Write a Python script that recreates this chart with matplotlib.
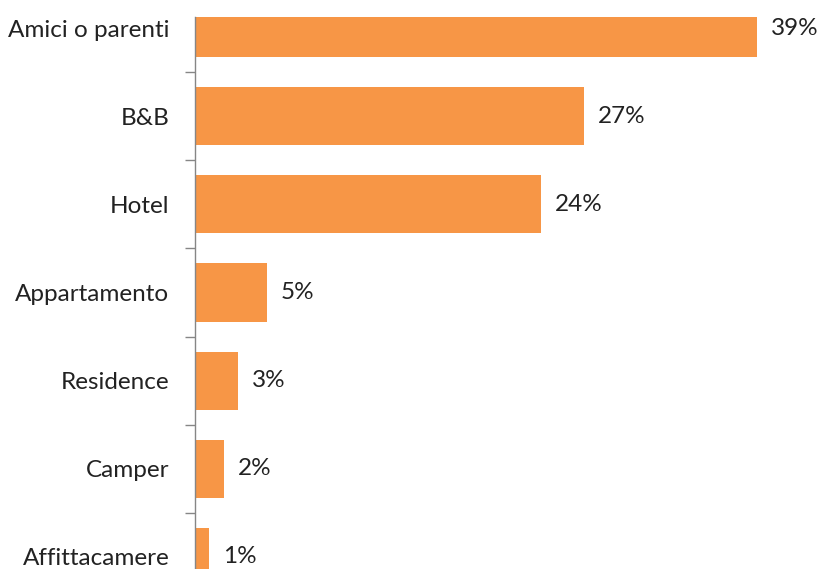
import matplotlib
matplotlib.use("Agg")
import matplotlib.pyplot as plt

categories = ["Amici o parenti", "B&B", "Hotel", "Appartamento", "Residence", "Camper", "Affittacamere"]
values = [39, 27, 24, 5, 3, 2, 1]
value_labels = ["39%", "27%", "24%", "5%", "3%", "2%", "1%"]

plt.rcParams["font.family"] = ["Lato", "DejaVu Sans"]

W, H = 823, 569
fig = plt.figure(figsize=(W / 100, H / 100), dpi=100)
left = 195 / W
top = 17 / H
ax = fig.add_axes([left, 0, 1 - left, 1 - top])

bar_color = "#F79646"
axis_color = "#868686"
text_color = "#222222"
fs = 17.5

pos = list(range(len(categories)))
ax.barh(pos, values, height=0.66, color=bar_color, zorder=2)

px_per_unit = 14.41
ax.set_xlim(0, (W - 195) / px_per_unit)
ax.set_ylim(6 + 12 / 88, -11 / 88)

for p, v, lab in zip(pos, values, value_labels):
    ax.annotate(lab, (v, p), xytext=(14, 0), textcoords="offset pixels",
                va="center", ha="left", fontsize=fs, color=text_color)

ax.set_yticks(pos)
ax.set_yticklabels(categories, fontsize=fs, color=text_color)
ax.tick_params(axis="y", which="major", length=0, pad=18.5)
ax.set_yticks([p + 0.5 for p in pos[:-1]], minor=True)
ax.tick_params(axis="y", which="minor", length=7, width=1, color=axis_color, direction="out")

ax.set_xticks([])
for s in ["top", "right", "bottom"]:
    ax.spines[s].set_visible(False)
ax.spines["left"].set_color(axis_color)
ax.spines["left"].set_linewidth(1)

fig.savefig("out.png", dpi=100)
